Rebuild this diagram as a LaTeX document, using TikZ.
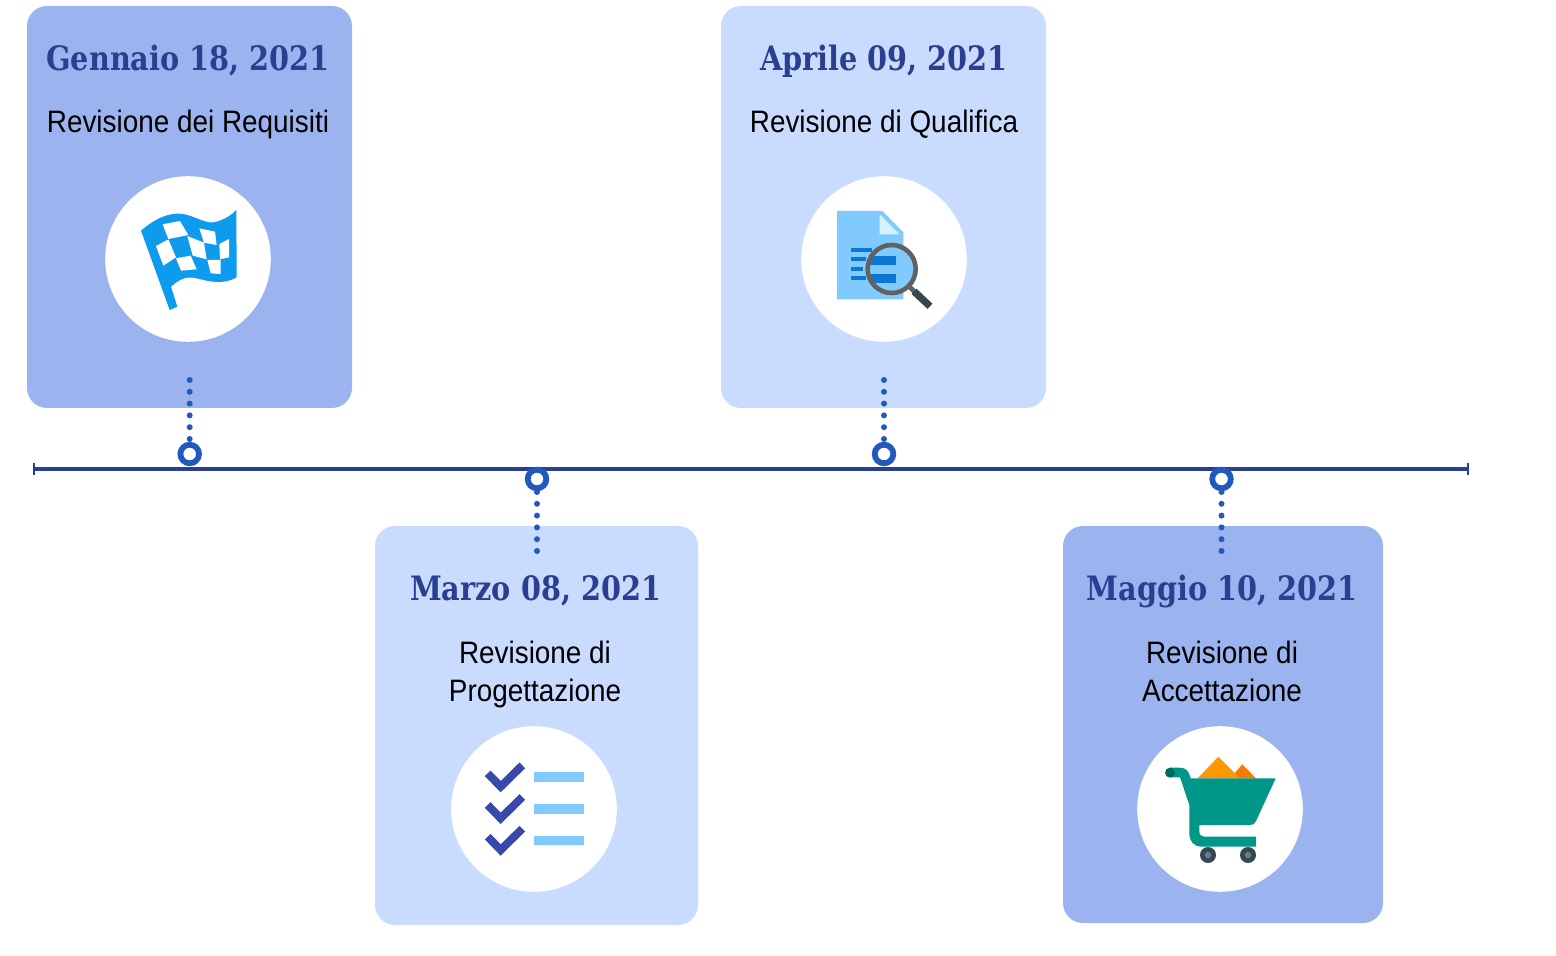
\documentclass[tikz,border=0pt]{standalone}
\usepackage{fontspec}
\usetikzlibrary{arrows.meta}
\setmainfont{Liberation Sans}
\newfontfamily\titlefont[FakeStretch=0.855]{DejaVu Serif}
\newfontfamily\subfont[FakeStretch=0.9]{Liberation Sans}
\definecolor{cardd}{HTML}{9BB4F0}
\definecolor{cardl}{HTML}{C9DCFF}
\definecolor{navy}{HTML}{2A3F8F}
\definecolor{ringc}{HTML}{2159BF}
\definecolor{flagc}{HTML}{0D9BEE}
\definecolor{skyc}{HTML}{81CAFE}
\definecolor{foldc}{HTML}{D5F2FF}
\definecolor{barc}{HTML}{0B76D6}
\definecolor{lensc}{HTML}{616161}
\definecolor{darkc}{HTML}{37474F}
\definecolor{wheelc}{HTML}{607D8B}
\definecolor{checkc}{HTML}{3949AB}
\definecolor{tealc}{HTML}{009688}
\definecolor{gripc}{HTML}{00695C}
\definecolor{pilea}{HTML}{FF9800}
\definecolor{pileb}{HTML}{F57C00}
\tikzset{
card/.style = {rounded corners = 10pt, inner sep = 0pt, minimum width = #1},
title/.style = {font = \titlefont\bfseries\fontsize{16.8}{20}\selectfont, text = navy},
sub/.style = {font = \subfont\fontsize{15.5}{19}\selectfont, align = center},
disc/.style = {circle, fill = white, inner sep = 0pt, minimum size = 82.8pt},
ring/.style = {draw = ringc, circle, fill = white, line width = 2.9pt, inner sep = 0pt, minimum size = 9.3pt},
dotlink/.style = {draw = ringc, line width = 3pt, line cap = round, dash pattern = on 0pt off 5.9pt}
}
\begin{document}
\begin{tikzpicture}[x = 0.5pt, y = -0.5pt]
\useasboundingbox (0,0) rectangle (1556,956);
\node[card = 162.5pt, minimum height = 201pt, fill = cardd](card1) at (189.5,207){};
\node[card = 162.5pt, minimum height = 201pt, fill = cardl](card3) at (883.5,207){};
\node[card = 161.5pt, minimum height = 199.5pt, fill = cardl](card2) at (536.5,725.5){};
\node[card = 160pt, minimum height = 198.5pt, fill = cardd](card4) at (1223,724.5){};
\node[title](date1) at (188,61){Gennaio 18, 2021};
\node[title](date3) at (884,61){Aprile 09, 2021};
\node[title](date2) at (535.5,591){Marzo 08, 2021};
\node[title](date4) at (1222,591){Maggio 10, 2021};
\node[sub](rev1) at (188,124.5){Revisione dei Requisiti};
\node[sub](rev3) at (884,124.5){Revisione di Qualifica};
\node[sub](rev2) at (535,674){Revisione di\\Progettazione};
\node[sub](rev4) at (1222,671){Revisione di\\Accettazione};
\node[disc](disc1) at (188,259){};
\node[disc](disc3) at (884,259){};
\node[disc](disc2) at (534,809){};
\node[disc](disc4) at (1220,809){};
\coordinate (lineL) at (33,468.7);
\coordinate (lineR) at (1469,468.7);
\draw[{Bar[width = 6pt, line width = 1pt]}-{Bar[width = 6pt, line width = 1pt]}, draw = navy, line width = 2pt] (lineL) -- (lineR);
\node[ring](ring1) at (189.7,454){};
\node[ring](ring3) at (884,454){};
\node[ring](ring2) at (537,479){};
\node[ring](ring4) at (1221.5,479){};
\coordinate (dot1) at (189.7,380);
\coordinate (dot3) at (884,380);
\coordinate (dot2) at (537,551);
\coordinate (dot4) at (1221.5,551);
\draw[dotlink] (dot1) -- (ring1);
\draw[dotlink] (dot3) -- (ring3);
\draw[dotlink] (dot2) -- (ring2);
\draw[dotlink] (dot4) -- (ring4);
\begin{scope}[shift = {(100,170)}, scale = 1/3]
\fill[flagc] (123,182) .. controls (160,150) and (205,125) .. (250,132) .. controls (290,140) and (320,165) .. (350,155) .. controls (375,148) and (395,135) .. (409,120) -- (410,322) .. controls (370,345) and (330,335) .. (290,325) .. controls (255,315) and (230,335) .. (213,350) -- (232,410) -- (209,420) -- cycle;
\fill[white] (188,163) -- (240,153) -- (265,195) -- (205,207) -- cycle;
\fill[white] (298,175) -- (345,185) -- (350,225) -- (312,218) -- cycle;
\fill[white] (168,228) -- (205,208) -- (228,262) -- (190,287) -- cycle;
\fill[white] (262,198) -- (312,218) -- (320,268) -- (278,257) -- cycle;
\fill[white] (358,222) -- (387,207) -- (387,262) -- (360,268) -- cycle;
\fill[white] (228,265) -- (272,257) -- (290,298) -- (243,302) -- cycle;
\fill[white] (322,270) -- (362,270) -- (362,312) -- (332,310) -- cycle;
\end{scope}
\begin{scope}[shift = {(795,170)}, scale = 1/3]
\fill[skyc] (126,123) -- (262,123) -- (325,187) -- (325,388) -- (126,388) -- cycle;
\fill[foldc] (254,133) -- (313,193) -- (254,193) -- cycle;
\fill[barc] (168,235) rectangle (230,247);
\fill[barc] (168,262) rectangle (212,274);
\fill[barc] (168,291) rectangle (205,303);
\fill[barc] (168,319) rectangle (212,331);
\fill[skyc] (290,297) circle [radius = 72];
\begin{scope}
\clip (290,297) circle [radius = 66];
\fill[barc] (200,257) rectangle (304,285);
\fill[barc] (200,312) rectangle (304,340);
\end{scope}
\draw[draw = lensc, line width = 2.3pt] (290,297) circle [radius = 72];
\draw[draw = lensc, line width = 2.4pt] (342,349) -- (362,369);
\draw[draw = darkc, line width = 3.6pt] (357,364) -- (405,409);
\end{scope}
\begin{scope}[shift = {(445,720)}, scale = 1/3]
\draw[checkc, line width = 4pt] (128,160) -- (167,200) -- (232,136);
\draw[checkc, line width = 4pt] (128,255) -- (167,295) -- (232,231);
\draw[checkc, line width = 4pt] (128,350) -- (167,390) -- (232,326);
\fill[skyc] (268,157) rectangle (417,186);
\fill[skyc] (268,252) rectangle (417,281);
\fill[skyc] (268,347) rectangle (417,376);
\end{scope}
\begin{scope}[shift = {(1130,720)}, scale = 1/3]
\fill[pileb] (300,175) -- (337,133) -- (378,175) -- cycle;
\fill[pilea] (203,175) -- (265,110) -- (330,175) -- cycle;
\fill[tealc] (120,143) -- (150,143) .. controls (168,143) and (178,155) .. (182,175) -- (437,175) -- (378,303) .. controls (374,312) and (370,315) .. (360,315) -- (208,315) -- (208,335) .. controls (208,345) and (215,350) .. (225,350) -- (378,350) -- (378,380) -- (215,380) .. controls (192,380) and (178,365) .. (178,340) -- (178,255) -- (150,172) -- (120,172) -- cycle;
\fill[gripc] (120,158) circle [radius = 15];
\fill[darkc] (234,405) circle [radius = 24];
\fill[darkc] (354,405) circle [radius = 24];
\fill[wheelc] (234,405) circle [radius = 10];
\fill[wheelc] (354,405) circle [radius = 10];
\end{scope}
\end{tikzpicture}
\end{document}
